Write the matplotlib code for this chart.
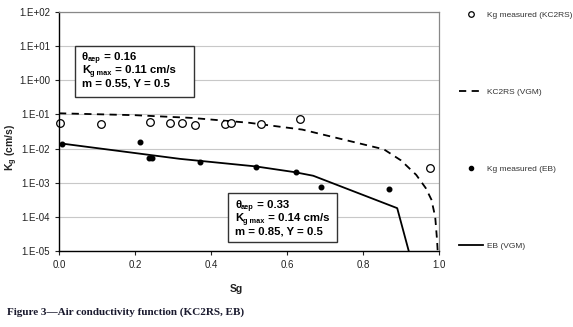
import numpy as np
import matplotlib
matplotlib.use("Agg")
import matplotlib.pyplot as plt
from matplotlib.lines import Line2D
from matplotlib.patches import Rectangle

plt.rcParams['font.family'] = ['Liberation Sans', 'DejaVu Sans']
plt.rcParams['mathtext.fontset'] = 'custom'
plt.rcParams['mathtext.rm'] = 'Liberation Sans:bold'
plt.rcParams['mathtext.it'] = 'Liberation Sans:bold'
plt.rcParams['mathtext.bf'] = 'Liberation Sans:bold'

# Measured KC2RS (open circles)
kc_sg = [0.003, 0.11, 0.24, 0.293, 0.324, 0.359, 0.436, 0.452, 0.531, 0.635, 0.975]
kc_kg = [0.057, 0.052, 0.060, 0.058, 0.057, 0.049, 0.053, 0.057, 0.052, 0.073, 0.0027]

# Measured EB (filled dots)
eb_sg = [0.009, 0.213, 0.238, 0.246, 0.372, 0.518, 0.623, 0.689, 0.868]
eb_kg = [0.0133, 0.0156, 0.00528, 0.0054, 0.00395, 0.00294, 0.0021, 0.00076, 0.00065]

# KC2RS (VGM) curve
kcv_sg = [0.0, 0.2, 0.35, 0.5, 0.64, 0.855, 0.90, 0.94, 0.965, 0.98, 0.99, 0.995, 0.998]
kcv_kg = [0.108, 0.095, 0.079, 0.057, 0.036, 0.0095, 0.0045, 0.0017, 0.0007, 0.00032, 0.0001, 0.00002, 0.000005]

# EB (VGM) curve
ebv_sg = [0.01, 0.318, 0.518, 0.62, 0.669, 0.89, 0.93]
ebv_kg = [0.0139, 0.0050, 0.0030, 0.00204, 0.0016, 0.00018, 0.000004]

ytick_vals = [1e-5, 1e-4, 1e-3, 1e-2, 1e-1, 1e0, 1e1, 1e2]
ytick_labels = ["1.E-05", "1.E-04", "1.E-03", "1.E-02", "1.E-01", "1.E+00", "1.E+01", "1.E+02"]
xtick_vals = [0.0, 0.2, 0.4, 0.6, 0.8, 1.0]
xtick_labels = ["0.0", "0.2", "0.4", "0.6", "0.8", "1.0"]

# each line: list of (text, is_subscript)
box1_lines = [[("θ", False), ("aep", True), (" = 0.16", False)],
              [("K", False), ("g max", True), (" = 0.11 cm/s", False)],
              [("m = 0.55, Y = 0.5", False)]]
box2_lines = [[("θ", False), ("aep", True), (" = 0.33", False)],
              [("K", False), ("g max", True), (" = 0.14 cm/s", False)],
              [("m = 0.85, Y = 0.5", False)]]

W, H = 573, 327
fig = plt.figure(figsize=(W/100, H/100), dpi=100)
ax = fig.add_axes([59/W, 1-251/H, (439-59)/W, (251-12)/H])

ax.set_yscale('log')
ax.set_xlim(0, 1.0)
ax.set_ylim(1e-5, 1e2)
ax.yaxis.grid(True, color='#c8c8c8', linewidth=0.8)
ax.set_axisbelow(True)

ax.plot(kcv_sg, kcv_kg, color='black', linestyle=(0, (4, 3)), linewidth=1.3, clip_on=True)
ax.plot(ebv_sg, ebv_kg, color='black', linestyle='-', linewidth=1.3, clip_on=True)
ax.plot(kc_sg, kc_kg, linestyle='none', marker='o', markersize=5.5,
        markerfacecolor='white', markeredgecolor='black', markeredgewidth=0.9, clip_on=False)
ax.plot(eb_sg, eb_kg, linestyle='none', marker='o', markersize=3.3,
        markerfacecolor='black', markeredgecolor='black', clip_on=False)

ax.set_yticks(ytick_vals)
ax.set_yticklabels(ytick_labels)
ax.yaxis.set_minor_locator(matplotlib.ticker.NullLocator())
ax.set_xticks(xtick_vals)
ax.set_xticklabels(xtick_labels)
ax.tick_params(axis='both', labelsize=7, colors='#222222', length=3, width=0.8, direction='out')

for s in ['left', 'bottom']:
    ax.spines[s].set_color('black')
    ax.spines[s].set_linewidth(1.0)
for s in ['top', 'right']:
    ax.spines[s].set_color('#888888')
    ax.spines[s].set_linewidth(0.9)

fig.text(12/W, 1-147/H, r"K$_\mathregular{g}$ (cm/s)", rotation=90, fontsize=7.5,
         fontweight='bold', ha='center', va='center', color='#222222')
fig.text(236/W, 1-289/H, "Sg", fontsize=7.5, fontweight='bold', ha='center', va='center', color='#222222')

renderer = fig.canvas.get_renderer()

def draw_box(x0, y0, x1, y1, tx, baselines, lines):
    fig.patches.append(Rectangle((x0/W, 1-y1/H), (x1-x0)/W, (y1-y0)/H, transform=fig.transFigure,
                                 facecolor='white', edgecolor='#333333', linewidth=1.0, zorder=5))
    for base, parts in zip(baselines, lines):
        x = tx
        for s, sub in parts:
            t = fig.text(x/W, 1-(base + (1.8 if sub else 0))/H, s,
                         fontsize=5.3 if sub else 8.2, fontweight='bold',
                         ha='left', va='baseline', color='black', zorder=6)
            x += t.get_window_extent(renderer).width

draw_box(75, 46, 194, 97, 82, [59.5, 73, 86.5], box1_lines)
draw_box(228, 193, 337, 242, 235, [207.5, 221, 234], box2_lines)

handles = [
    Line2D([], [], linestyle='none', marker='o', markersize=4, markerfacecolor='white',
           markeredgecolor='black', markeredgewidth=0.9),
    Line2D([], [], color='black', linestyle=(0, (4, 3)), linewidth=1.3),
    Line2D([], [], linestyle='none', marker='o', markersize=3, markerfacecolor='black', markeredgecolor='black'),
    Line2D([], [], color='black', linestyle='-', linewidth=1.3),
]
labels = ["Kg measured (KC2RS)", "KC2RS (VGM)", "Kg measured (EB)", "EB (VGM)"]
leg = fig.legend(handles, labels, loc='upper left', bbox_to_anchor=(459/W, 1-11/H),
                 frameon=False, fontsize=6, labelspacing=8.3, handlelength=2.9, handletextpad=0.5,
                 borderpad=0, borderaxespad=0)
for t in leg.get_texts():
    t.set_color('#333333')

fig.text(7/W, 1-312/H, "Figure 3—Air conductivity function (KC2RS, EB)",
         family=['Liberation Serif'], fontweight='bold', fontsize=8, ha='left', va='center', color='#1a1a2e')

fig.savefig("out.png", dpi=100)
